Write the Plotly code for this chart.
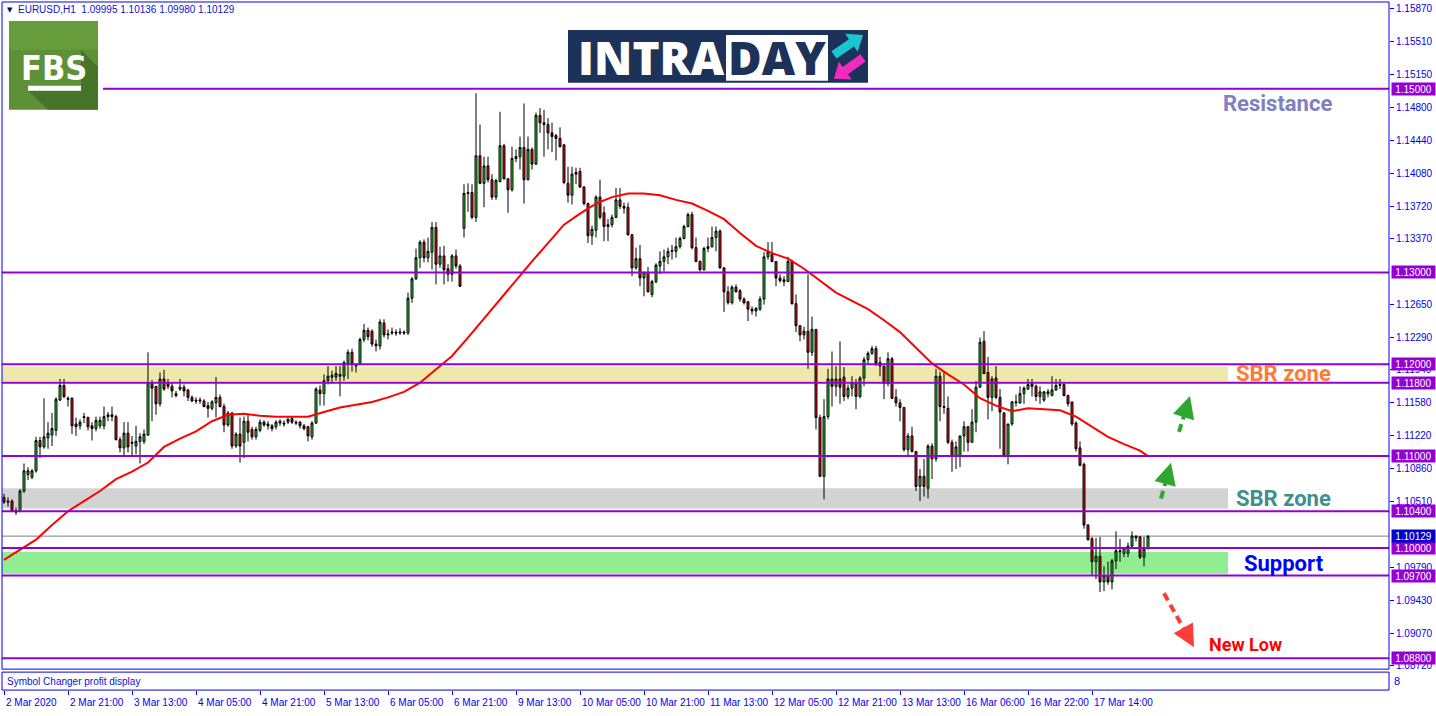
import math
import plotly.graph_objects as go

W, H = 1436, 716
def px(x): return x / W
def py(y): return 1 - y / H

# ---------------- data (EURUSD H1) ----------------
OPEN = [1.1055,1.1051,1.1051,1.1041,1.1040,1.1062,1.1080,1.1077,1.1084,1.1117,
        1.1110,1.1120,1.1123,1.1128,1.1161,1.1177,1.1163,1.1163,1.1135,1.1133,
        1.1142,1.1142,1.1133,1.1130,1.1133,1.1133,1.1143,1.1145,1.1143,1.1118,
        1.1109,1.1125,1.1115,1.1111,1.1116,1.1116,1.1123,1.1180,1.1176,1.1157,
        1.1184,1.1179,1.1176,1.1168,1.1173,1.1175,1.1172,1.1164,1.1161,1.1160,
        1.1160,1.1155,1.1152,1.1158,1.1164,1.1154,1.1134,1.1147,1.1111,1.1124,
        1.1115,1.1138,1.1129,1.1121,1.1128,1.1137,1.1135,1.1133,1.1132,1.1136,
        1.1136,1.1137,1.1141,1.1137,1.1137,1.1133,1.1132,1.1121,1.1136,1.1172,
        1.1168,1.1182,1.1186,1.1186,1.1189,1.1187,1.1201,1.1213,1.1200,1.1200,
        1.1227,1.1237,1.1236,1.1222,1.1220,1.1245,1.1232,1.1234,1.1235,1.1234,
        1.1235,1.1234,1.1272,1.1293,1.1316,1.1333,1.1316,1.1322,1.1349,1.1309,
        1.1318,1.1304,1.1298,1.1318,1.1307,1.1348,1.1386,1.1387,1.1360,1.1427,
        1.1397,1.1416,1.1401,1.1382,1.1399,1.1438,1.1402,1.1390,1.1424,1.1426,
        1.1436,1.1401,1.1434,1.1418,1.1471,1.1463,1.1461,1.1452,1.1449,1.1446,
        1.1439,1.1397,1.1384,1.1407,1.1410,1.1393,1.1375,1.1340,1.1346,1.1382,
        1.1365,1.1350,1.1352,1.1360,1.1379,1.1372,1.1371,1.1341,1.1305,1.1315,
        1.1294,1.1300,1.1276,1.1290,1.1307,1.1312,1.1317,1.1323,1.1323,1.1328,
        1.1337,1.1350,1.1363,1.1327,1.1312,1.1303,1.1326,1.1328,1.1338,1.1345,
        1.1305,1.1279,1.1267,1.1284,1.1280,1.1271,1.1268,1.1260,1.1258,1.1260,
        1.1271,1.1317,1.1320,1.1312,1.1294,1.1292,1.1290,1.1312,1.1266,1.1242,
        1.1232,1.1236,1.1213,1.1238,1.1142,1.1078,1.1143,1.1184,1.1176,1.1184,
        1.1186,1.1165,1.1174,1.1180,1.1165,1.1185,1.1205,1.1212,1.1217,1.1202,
        1.1198,1.1179,1.1206,1.1164,1.1158,1.1153,1.1107,1.1122,1.1105,1.1067,
        1.1078,1.1065,1.1111,1.1097,1.1187,1.1154,1.1152,1.1115,1.1100,1.1100,
        1.1122,1.1132,1.1115,1.1137,1.1175,1.1225,1.1191,1.1164,1.1185,1.1164,
        1.1147,1.1100,1.1135,1.1158,1.1158,1.1168,1.1173,1.1179,1.1176,1.1165,
        1.1161,1.1168,1.1166,1.1172,1.1177,1.1178,1.1166,1.1159,1.1136,1.1109,
        1.1091,1.1025,1.1010,1.0985,1.0991,1.0963,1.0970,1.0963,1.0986,1.0997,
        1.0994,1.0994,1.1002,1.1013,1.1012,1.0990,1.09995]
HIGH = [1.1059,1.1055,1.1053,1.1044,1.1064,1.1092,1.1088,1.1086,1.1121,1.1121,
        1.1163,1.1137,1.1147,1.1164,1.1184,1.1184,1.1165,1.1164,1.1142,1.1140,
        1.1147,1.1143,1.1137,1.1143,1.1143,1.1154,1.1148,1.1154,1.1145,1.1121,
        1.1137,1.1137,1.1122,1.1133,1.1125,1.1129,1.1213,1.1183,1.1176,1.1191,
        1.1194,1.1184,1.1180,1.1171,1.1184,1.1178,1.1173,1.1166,1.1164,1.1164,
        1.1162,1.1159,1.1161,1.1186,1.1167,1.1157,1.1149,1.1148,1.1126,1.1142,
        1.1143,1.1145,1.1132,1.1132,1.1140,1.1139,1.1138,1.1135,1.1139,1.1140,
        1.1139,1.1142,1.1143,1.1139,1.1138,1.1135,1.1133,1.1138,1.1175,1.1177,
        1.1189,1.1198,1.1193,1.1198,1.1198,1.1204,1.1216,1.1217,1.1201,1.1229,
        1.1244,1.1240,1.1238,1.1227,1.1249,1.1249,1.1238,1.1240,1.1238,1.1239,
        1.1237,1.1278,1.1295,1.1326,1.1335,1.1336,1.1338,1.1355,1.1355,1.1328,
        1.1329,1.1309,1.1320,1.1325,1.1309,1.1396,1.1397,1.1396,1.1495,1.1461,
        1.1426,1.1426,1.1407,1.1402,1.1475,1.1440,1.1402,1.1437,1.1434,1.1448,
        1.1484,1.1448,1.1436,1.1474,1.1479,1.1477,1.1468,1.1463,1.1451,1.1458,
        1.1439,1.1415,1.1415,1.1414,1.1414,1.1394,1.1376,1.1351,1.1384,1.1401,
        1.1372,1.1358,1.1363,1.1392,1.1392,1.1376,1.1376,1.1342,1.1327,1.1330,
        1.1301,1.1306,1.1292,1.1310,1.1323,1.1325,1.1327,1.1330,1.1338,1.1339,
        1.1352,1.1365,1.1366,1.1338,1.1313,1.1328,1.1338,1.1350,1.1350,1.1347,
        1.1306,1.1285,1.1286,1.1287,1.1282,1.1273,1.1269,1.1263,1.1262,1.1274,
        1.1322,1.1333,1.1333,1.1312,1.1298,1.1296,1.1317,1.1314,1.1276,1.1242,
        1.1241,1.1298,1.1252,1.1238,1.1145,1.1162,1.1195,1.1214,1.1198,1.1225,
        1.1197,1.1178,1.1187,1.1184,1.1187,1.1208,1.1214,1.1220,1.1220,1.1208,
        1.1198,1.1213,1.1208,1.1173,1.1162,1.1153,1.1125,1.1132,1.1105,1.1086,
        1.1097,1.1113,1.1114,1.1195,1.1192,1.1192,1.1165,1.1118,1.1116,1.1122,
        1.1138,1.1133,1.1151,1.1182,1.1229,1.1236,1.1208,1.1187,1.1198,1.1173,
        1.1148,1.1135,1.1160,1.1167,1.1176,1.1176,1.1184,1.1184,1.1178,1.1176,
        1.1171,1.1173,1.1187,1.1184,1.1184,1.1180,1.1167,1.1159,1.1138,1.1116,
        1.1093,1.1026,1.1012,1.1011,1.1012,1.0980,1.0985,1.0988,1.1018,1.1010,
        1.1001,1.1006,1.1018,1.1013,1.1013,1.1012,1.10136]
LOW = [1.1048,1.1045,1.1039,1.1036,1.1039,1.1060,1.1074,1.1075,1.1082,1.1098,
       1.1108,1.1108,1.1111,1.1122,1.1160,1.1163,1.1154,1.1124,1.1122,1.1129,
       1.1136,1.1128,1.1117,1.1127,1.1130,1.1129,1.1138,1.1138,1.1117,1.1104,
       1.1099,1.1104,1.1101,1.1102,1.1092,1.1113,1.1122,1.1138,1.1145,1.1154,
       1.1171,1.1173,1.1164,1.1164,1.1171,1.1165,1.1160,1.1159,1.1157,1.1157,
       1.1153,1.1142,1.1150,1.1142,1.1153,1.1126,1.1132,1.1108,1.1109,1.1093,
       1.1098,1.1116,1.1118,1.1118,1.1126,1.1132,1.1129,1.1127,1.1129,1.1133,
       1.1132,1.1135,1.1135,1.1134,1.1130,1.1128,1.1116,1.1118,1.1135,1.1155,
       1.1155,1.1178,1.1179,1.1182,1.1165,1.1182,1.1184,1.1192,1.1191,1.1199,
       1.1224,1.1226,1.1219,1.1214,1.1216,1.1229,1.1227,1.1232,1.1231,1.1232,
       1.1232,1.1232,1.1267,1.1292,1.1305,1.1311,1.1311,1.1303,1.1287,1.1305,
       1.1287,1.1290,1.1290,1.1304,1.1284,1.1338,1.1366,1.1358,1.1355,1.1396,
       1.1371,1.1398,1.1379,1.1379,1.1398,1.1401,1.1365,1.1388,1.1420,1.1412,
       1.1375,1.1400,1.1412,1.1417,1.1452,1.1426,1.1434,1.1431,1.1422,1.1436,
       1.1396,1.1376,1.1374,1.1396,1.1392,1.1373,1.1332,1.1330,1.1338,1.1358,
       1.1334,1.1334,1.1349,1.1359,1.1369,1.1364,1.1340,1.1296,1.1303,1.1285,
       1.1274,1.1278,1.1273,1.1288,1.1298,1.1301,1.1309,1.1314,1.1316,1.1326,
       1.1336,1.1349,1.1325,1.1311,1.1301,1.1302,1.1322,1.1327,1.1323,1.1304,
       1.1257,1.1265,1.1265,1.1278,1.1268,1.1265,1.1247,1.1254,1.1252,1.1258,
       1.1265,1.1314,1.1311,1.1285,1.1289,1.1285,1.1290,1.1265,1.1235,1.1225,
       1.1227,1.1195,1.1209,1.1129,1.1077,1.1053,1.1140,1.1154,1.1165,1.1157,
       1.1160,1.1162,1.1165,1.1151,1.1163,1.1176,1.1200,1.1210,1.1198,1.1187,
       1.1162,1.1176,1.1162,1.1154,1.1138,1.1105,1.1099,1.1104,1.1062,1.1051,
       1.1056,1.1054,1.1075,1.1094,1.1138,1.1146,1.1113,1.1083,1.1086,1.1088,
       1.1105,1.1105,1.1115,1.1126,1.1175,1.1189,1.1140,1.1149,1.1162,1.1108,
       1.1100,1.1091,1.1133,1.1154,1.1157,1.1157,1.1172,1.1165,1.1160,1.1157,
       1.1159,1.1164,1.1165,1.1171,1.1173,1.1165,1.1154,1.1133,1.1105,1.1089,
       1.1021,1.1008,1.0970,1.0966,1.0952,1.0953,1.0960,1.0955,1.0977,1.0985,
       1.0990,1.0990,1.1001,1.1007,1.0988,1.0980,1.09980]
CLOSE = [1.1050,1.1050,1.1040,1.1039,1.1062,1.1084,1.1084,1.1084,1.1117,1.1110,
         1.1121,1.1125,1.1130,1.1162,1.1177,1.1165,1.1162,1.1133,1.1132,1.1137,
         1.1143,1.1132,1.1130,1.1139,1.1139,1.1143,1.1145,1.1143,1.1118,1.1109,
         1.1125,1.1110,1.1114,1.1116,1.1121,1.1124,1.1180,1.1174,1.1157,1.1184,
         1.1173,1.1176,1.1171,1.1166,1.1175,1.1171,1.1164,1.1160,1.1160,1.1161,
         1.1154,1.1152,1.1159,1.1164,1.1154,1.1134,1.1147,1.1111,1.1124,1.1111,
         1.1138,1.1126,1.1121,1.1129,1.1137,1.1134,1.1133,1.1130,1.1137,1.1138,
         1.1135,1.1140,1.1137,1.1136,1.1133,1.1130,1.1122,1.1136,1.1173,1.1168,
         1.1182,1.1187,1.1188,1.1190,1.1187,1.1202,1.1213,1.1200,1.1198,1.1227,
         1.1237,1.1230,1.1222,1.1220,1.1246,1.1232,1.1233,1.1235,1.1234,1.1235,
         1.1234,1.1272,1.1293,1.1316,1.1333,1.1316,1.1323,1.1349,1.1309,1.1318,
         1.1303,1.1298,1.1318,1.1307,1.1285,1.1386,1.1387,1.1360,1.1427,1.1397,
         1.1416,1.1401,1.1382,1.1400,1.1438,1.1402,1.1390,1.1424,1.1426,1.1436,
         1.1401,1.1434,1.1418,1.1471,1.1463,1.1461,1.1452,1.1448,1.1446,1.1437,
         1.1398,1.1384,1.1407,1.1409,1.1393,1.1375,1.1340,1.1347,1.1382,1.1360,
         1.1350,1.1352,1.1360,1.1379,1.1372,1.1370,1.1341,1.1305,1.1315,1.1294,
         1.1300,1.1279,1.1290,1.1308,1.1312,1.1317,1.1323,1.1324,1.1328,1.1337,
         1.1350,1.1363,1.1327,1.1312,1.1303,1.1326,1.1328,1.1338,1.1345,1.1305,
         1.1279,1.1267,1.1284,1.1279,1.1271,1.1267,1.1260,1.1258,1.1261,1.1271,
         1.1317,1.1322,1.1312,1.1294,1.1291,1.1290,1.1312,1.1266,1.1242,1.1232,
         1.1236,1.1213,1.1238,1.1142,1.1078,1.1143,1.1184,1.1176,1.1184,1.1175,
         1.1165,1.1174,1.1180,1.1165,1.1185,1.1205,1.1212,1.1217,1.1201,1.1198,
         1.1179,1.1206,1.1163,1.1158,1.1153,1.1107,1.1122,1.1105,1.1067,1.1078,
         1.1067,1.1111,1.1097,1.1187,1.1154,1.1153,1.1115,1.1100,1.1110,1.1122,
         1.1132,1.1115,1.1137,1.1175,1.1224,1.1190,1.1164,1.1184,1.1164,1.1148,
         1.1100,1.1135,1.1159,1.1159,1.1168,1.1174,1.1178,1.1176,1.1165,1.1170,
         1.1170,1.1170,1.1172,1.1177,1.1178,1.1166,1.1157,1.1135,1.1108,1.1090,
         1.1025,1.1009,1.0985,1.0991,1.0963,1.0970,1.0963,1.0986,1.0997,1.0996,
         1.1000,1.1002,1.1013,1.1011,1.0990,1.0999,1.10129]

MA_BARS = [0,4,8,12,16,20,24,28,32,36,40,44,48,52,56,60,64,68,72,76,80,84,88,92,96,
           100,104,108,112,116,120,124,128,132,136,140,144,148,152,156,160,164,168,
           172,176,180,184,188,192,196,200,204,208,212,216,220,224,228,232,236,240,
           244,248,252,256,260,264,268,272,276,280,284,286]
MA_VALUES = [1.0987,1.0998,1.1009,1.1025,1.1040,1.1051,1.1062,1.1075,1.1083,1.1093,
             1.1110,1.1119,1.1127,1.1138,1.1145,1.1146,1.1144,1.1143,1.1143,1.1143,
             1.1148,1.1153,1.1156,1.1159,1.1164,1.1170,1.1180,1.1195,1.1209,1.1229,
             1.1250,1.1271,1.1291,1.1312,1.1332,1.1352,1.1364,1.1375,1.1382,1.1386,
             1.1386,1.1384,1.1379,1.1375,1.1367,1.1358,1.1343,1.1329,1.1321,1.1315,
             1.1304,1.1291,1.1278,1.1269,1.1260,1.1248,1.1235,1.1218,1.1201,1.1189,
             1.1178,1.1163,1.1155,1.1149,1.1152,1.1151,1.1150,1.1143,1.1132,1.1121,
             1.1113,1.1106,1.1100]

TICK_BARS = [0,16,32,48,64,80,96,112,128,144,160,176,192,208,224,240,256,272]
TICK_LABELS = ["2 Mar 2020","2 Mar 21:00","3 Mar 13:00","4 Mar 05:00","4 Mar 21:00",
               "5 Mar 13:00","6 Mar 05:00","6 Mar 21:00","9 Mar 13:00","10 Mar 05:00",
               "10 Mar 21:00","11 Mar 13:00","12 Mar 05:00","12 Mar 21:00","13 Mar 13:00",
               "16 Mar 06:00","16 Mar 22:00","17 Mar 14:00"]
PRICE_TICKS = [1.15870,1.15510,1.15150,1.14800,1.14440,1.14080,1.13720,1.13370,
               1.12650,1.12290,1.11940,1.11580,1.11220,1.10860,1.10510,1.09790,
               1.09430,1.09070,1.08720]
LEVELS = [1.15000,1.13000,1.12000,1.11800,1.11000,1.10400,1.10000,1.09700,1.08800]
LAST_PRICE = 1.10129
ZONE_NAMES = ["upper SBR", "lower SBR", "support"]
ZONE_LOW = [1.11815, 1.10430, 1.09720]
ZONE_HIGH = [1.11975, 1.10650, 1.09960]
ZONE_END_BAR = 306

# ---------------- geometry ----------------
LEFT, RIGHT, TOP, BOTTOM = 2, 1389, 2, 671
SUB_TOP, SUB_BOTTOM = 674, 692
PRICE_AT_89 = 1.15
PX_PER_UNIT = 9210.0
Y_TOP = PRICE_AT_89 + (89 - TOP) / PX_PER_UNIT
Y_BOT = PRICE_AT_89 - (BOTTOM - 89) / PX_PER_UNIT
X_RANGE = [-0.5, (RIGHT - 4) / 4.0]

BLUE = "#0000F0"
PURPLE = "#9400D3"
FONT = "Liberation Sans, Arial, sans-serif"

bars = list(range(len(OPEN)))
fig = go.Figure()
fig.add_trace(go.Candlestick(
    x=bars, open=OPEN, high=HIGH, low=LOW, close=CLOSE,
    increasing=dict(fillcolor="#2ED62E", line=dict(color="black", width=1)),
    decreasing=dict(fillcolor="#F01010", line=dict(color="black", width=1)),
    whiskerwidth=0, hoverinfo="skip", xaxis="x", yaxis="y"))
fig.add_trace(go.Scatter(x=MA_BARS, y=MA_VALUES, mode="lines",
                         line=dict(color="#FF0000", width=2), hoverinfo="skip",
                         xaxis="x", yaxis="y"))
fig.add_trace(go.Scatter(x=[0], y=[0.5], mode="markers", marker=dict(opacity=0),
                         xaxis="x2", yaxis="y2", hoverinfo="skip"))

shapes = []
zone_colors = ["#EEE8AA", "#D3D3D3", "#90EE90"]
for lo, hi, c in zip(ZONE_LOW, ZONE_HIGH, zone_colors):
    shapes.append(dict(type="rect", xref="x", yref="y", x0=X_RANGE[0], x1=ZONE_END_BAR,
                       y0=lo, y1=hi, fillcolor=c, line=dict(width=0), layer="below"))
shapes.append(dict(type="line", xref="paper", yref="y", x0=px(LEFT), x1=px(RIGHT),
                   y0=LAST_PRICE, y1=LAST_PRICE, line=dict(color="#808080", width=1),
                   layer="below"))
for lv in LEVELS:
    x0 = px(103) if lv == 1.15 else px(LEFT)
    shapes.append(dict(type="line", xref="paper", yref="y", x0=x0, x1=px(RIGHT),
                       y0=lv, y1=lv, line=dict(color=PURPLE, width=2), layer="above"))
# frames
shapes.append(dict(type="rect", xref="paper", yref="paper", x0=px(LEFT), x1=px(RIGHT),
                   y0=py(BOTTOM), y1=py(TOP), line=dict(color=BLUE, width=1), layer="above"))
shapes.append(dict(type="rect", xref="paper", yref="paper", x0=px(LEFT), x1=px(RIGHT),
                   y0=py(SUB_BOTTOM), y1=py(SUB_TOP), line=dict(color=BLUE, width=1), layer="above"))

def poly(points):
    return "M " + " L ".join(f"{px(x):.5f},{py(y):.5f}" for x, y in points) + " Z"

def arrow_poly(tx, ty, hx, hy, w, hw, hl):
    dx, dy = hx - tx, hy - ty
    L = math.hypot(dx, dy)
    ux, uy = dx / L, dy / L
    nx, ny = -uy, ux
    bx, by = hx - ux * hl, hy - uy * hl
    pts = [(tx + nx * w / 2, ty + ny * w / 2), (bx + nx * w / 2, by + ny * w / 2),
           (bx + nx * hw / 2, by + ny * hw / 2), (hx, hy),
           (bx - nx * hw / 2, by - ny * hw / 2), (bx - nx * w / 2, by - ny * w / 2),
           (tx - nx * w / 2, ty - ny * w / 2)]
    return poly(pts)

# FBS logo
shapes.append(dict(type="rect", xref="paper", yref="paper", x0=px(9), x1=px(98),
                   y0=py(110), y1=py(21), fillcolor="#5E9137", line=dict(width=0), layer="above"))
shapes.append(dict(type="rect", xref="paper", yref="paper", x0=px(9), x1=px(98),
                   y0=py(50), y1=py(21), fillcolor="#679C3D", line=dict(width=0), layer="above"))
shapes.append(dict(type="path", xref="paper", yref="paper",
                   path=poly([(81, 50), (98, 67), (98, 110), (48, 110), (28, 91), (81, 91)]),
                   fillcolor="#3F6B25", opacity=0.75, line=dict(width=0), layer="above"))
shapes.append(dict(type="rect", xref="paper", yref="paper", x0=px(28), x1=px(81),
                   y0=py(91), y1=py(86), fillcolor="white", line=dict(width=0), layer="above"))
# INTRADAY banner
shapes.append(dict(type="rect", xref="paper", yref="paper", x0=px(568), x1=px(868),
                   y0=py(83), y1=py(30), fillcolor="#1C3259", line=dict(width=0), layer="above"))
shapes.append(dict(type="rect", xref="paper", yref="paper", x0=px(726), x1=px(828),
                   y0=py(81), y1=py(35), fillcolor="white", line=dict(width=0), layer="above"))
shapes.append(dict(type="path", xref="paper", yref="paper",
                   path=arrow_poly(834, 55, 863, 35, 9, 22, 14),
                   fillcolor="#19C6D1", line=dict(width=0), layer="above"))
shapes.append(dict(type="path", xref="paper", yref="paper",
                   path=arrow_poly(863, 58, 834, 79, 9, 22, 14),
                   fillcolor="#F02BBE", line=dict(width=0), layer="above"))

# dashed arrows
ARROWS = [((1161, 500), (1171, 464), "#2FA62F"),
          ((1179, 433), (1190, 397), "#2FA62F"),
          ((1164, 595), (1194, 649), "#FF3B3B")]
annotations = []
for (tx, ty), (hx, hy), col in ARROWS:
    L = math.hypot(hx - tx, hy - ty)
    ux, uy = (hx - tx) / L, (hy - ty) / L
    ex, ey = hx - ux * 8, hy - uy * 8
    shapes.append(dict(type="line", xref="paper", yref="paper", x0=px(tx), y0=py(ty),
                       x1=px(ex), y1=py(ey), line=dict(color=col, width=4, dash="8px,5px"),
                       layer="above"))
    annotations.append(dict(xref="paper", yref="paper", x=px(hx), y=py(hy), text="",
                            showarrow=True, ax=-ux * 10, ay=-uy * 10, arrowhead=2,
                            arrowsize=1.1, arrowwidth=4, arrowcolor=col, standoff=0))

# price label boxes
for lv in LEVELS:
    annotations.append(dict(xref="paper", yref="y", x=px(1391), y=lv, xanchor="left",
                            yanchor="middle", text=f"{lv:.5f}", showarrow=False,
                            bgcolor=PURPLE, font=dict(family=FONT, size=10, color="white"),
                            width=41, height=10, borderpad=1))
annotations.append(dict(xref="paper", yref="y", x=px(1391), y=LAST_PRICE, xanchor="left",
                        yanchor="middle", text=f"{LAST_PRICE:.5f}", showarrow=False,
                        bgcolor="#0000C8", font=dict(family=FONT, size=10, color="white"),
                        width=41, height=10, borderpad=1))
# time labels
for b, lab in zip(TICK_BARS, TICK_LABELS):
    annotations.append(dict(xref="x2", yref="paper", x=b, y=py(704), xanchor="left",
                            yanchor="middle", xshift=0, text=lab, showarrow=False,
                            font=dict(family=FONT, size=10, color=BLUE)))
# header & captions
annotations.append(dict(xref="paper", yref="paper", x=px(5), y=py(10), xanchor="left",
                        yanchor="middle", text="\u25BC", showarrow=False,
                        font=dict(family="DejaVu Sans", size=7, color="#000080")))
annotations.append(dict(xref="paper", yref="paper", x=px(16), y=py(10), xanchor="left",
                        yanchor="middle", text="EURUSD,H1\u00a0\u00a01.09995 1.10136 1.09980 1.10129",
                        showarrow=False, font=dict(family=FONT, size=10, color="#1010D0")))
annotations.append(dict(xref="paper", yref="paper", x=px(5), y=py(683), xanchor="left",
                        yanchor="middle", text="Symbol Changer profit display",
                        showarrow=False, font=dict(family=FONT, size=10, color="#1010D0")))
annotations.append(dict(xref="paper", yref="paper", x=px(1392), y=py(683), xanchor="left",
                        yanchor="middle", text="8", showarrow=False,
                        font=dict(family=FONT, size=11, color=BLUE)))
annotations.append(dict(xref="paper", yref="paper", x=px(54), y=py(68), xanchor="center",
                        yanchor="middle", text="FBS", showarrow=False,
                        font=dict(family="DejaVu Sans Condensed, DejaVu Sans", size=34,
                                  color="white", weight="bold")))
annotations.append(dict(xref="paper", yref="paper", x=px(651), y=py(57), xanchor="center",
                        yanchor="middle", text="INTRA", showarrow=False,
                        font=dict(family="Open Sans", size=46, color="white", weight=800)))
annotations.append(dict(xref="paper", yref="paper", x=px(777), y=py(57), xanchor="center",
                        yanchor="middle", text="DAY", showarrow=False,
                        font=dict(family="Open Sans", size=46, color="#1C3259", weight=800)))

LABELS = [("Resistance", 1277, 104, 22, "#8080C0"),
          ("SBR zone", 1283, 375, 22, "#FF7A33"),
          ("SBR zone", 1283, 500, 22, "#3F8F8F"),
          ("Support", 1284, 565, 22, "#0000FF"),
          ("New Low", 1245, 646, 18, "#FF0000")]
for t, x, y, s, c in LABELS:
    annotations.append(dict(xref="paper", yref="paper", x=px(x), y=py(y), xanchor="center",
                            yanchor="middle", text=f"<b>{t}</b>", showarrow=False,
                            font=dict(family="Roboto", size=s, color=c)))

fig.update_layout(
    width=W, height=H, margin=dict(l=0, r=0, t=0, b=0),
    paper_bgcolor="white", plot_bgcolor="white", showlegend=False,
    boxgap=0.3,
    xaxis=dict(domain=[px(LEFT), px(RIGHT)], range=X_RANGE, showticklabels=False,
               showgrid=False, zeroline=False, ticks="", rangeslider=dict(visible=False),
               anchor="y"),
    yaxis=dict(domain=[py(BOTTOM), py(TOP)], range=[Y_BOT, Y_TOP], side="right",
               tickvals=PRICE_TICKS, ticktext=[f"{v:.5f}" for v in PRICE_TICKS],
               ticks="outside", ticklen=4, tickcolor=BLUE, showgrid=False, zeroline=False,
               tickfont=dict(family=FONT, size=10, color=BLUE), anchor="x"),
    xaxis2=dict(domain=[px(LEFT), px(RIGHT)], range=X_RANGE, anchor="y2",
                tickvals=TICK_BARS, ticktext=[""] * len(TICK_BARS), ticks="outside",
                ticklen=4, tickcolor=BLUE, showgrid=False, zeroline=False),
    yaxis2=dict(domain=[py(SUB_BOTTOM), py(SUB_TOP)], range=[0, 1], showticklabels=False,
                showgrid=False, zeroline=False, anchor="x2"),
    shapes=shapes, annotations=annotations,
)
fig.write_html("out.html", config={"displayModeBar": False},
               post_script="document.body.style.margin='0px';document.body.style.padding='0px';"
                           "document.body.style.overflow='hidden';")
